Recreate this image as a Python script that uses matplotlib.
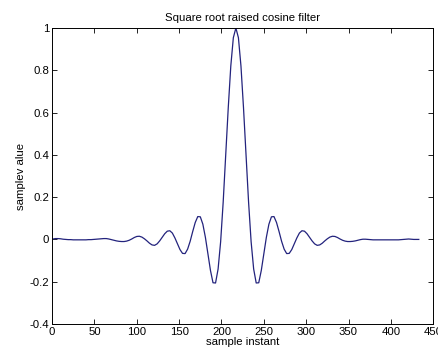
import numpy as np
import matplotlib
matplotlib.use('Agg')
import matplotlib.pyplot as plt
from matplotlib.ticker import FormatStrFormatter

# sample instants (every 3rd sample of the filter taps)
sample_instant = np.arange(1, 434, 3)

# filter taps, left half then right half
taps_left = [
    0.002, 0.004, 0.004, 0.003, 0.001, 0.0, -0.001, -0.001, -0.002, -0.002,
    -0.002, -0.002, -0.002, -0.002, -0.001, -0.001, 0.0, 0.001, 0.002, 0.003,
    0.004, 0.004, 0.002, -0.001, -0.004, -0.007, -0.009, -0.010, -0.010, -0.008,
    -0.004, 0.002, 0.009, 0.014, 0.015, 0.011, 0.003, -0.007, -0.018, -0.026,
    -0.028, -0.021, -0.007, 0.010, 0.027, 0.039, 0.041, 0.030, 0.007, -0.021,
    -0.048, -0.066, -0.067, -0.046, -0.009, 0.037, 0.080, 0.108, 0.107, 0.072,
    0.010, -0.070, -0.147, -0.205, -0.206, -0.140, -0.011, 0.176, 0.397, 0.623,
    0.820, 0.954, 1.0,
]
taps_right = [
    0.954, 0.820, 0.623, 0.397, 0.176, -0.011, -0.140, -0.206, -0.205, -0.147,
    -0.070, 0.010, 0.072, 0.107, 0.108, 0.080, 0.037, -0.009, -0.046, -0.067,
    -0.066, -0.048, -0.021, 0.007, 0.030, 0.041, 0.039, 0.027, 0.010, -0.007,
    -0.021, -0.028, -0.026, -0.018, -0.007, 0.003, 0.011, 0.015, 0.014, 0.009,
    0.002, -0.004, -0.008, -0.010, -0.010, -0.009, -0.007, -0.004, -0.001, 0.001,
    0.001, 0.0, -0.001, -0.002, -0.002, -0.002, -0.002, -0.002, -0.002, -0.002,
    -0.002, -0.002, -0.002, -0.002, -0.001, 0.0, 0.001, 0.002, 0.001, 0.0,
    0.0, 0.0,
]
sample_value = taps_left + taps_right

x_ticks = [0, 50, 100, 150, 200, 250, 300, 350, 400, 450]
y_ticks = [-0.4, -0.2, 0, 0.2, 0.4, 0.6, 0.8, 1]

plt.rcParams['font.family'] = ['Liberation Sans', 'DejaVu Sans']
plt.rcParams['font.size'] = 8.2

fig = plt.figure(figsize=(4.38, 3.61), dpi=100)
ax = fig.add_axes([0.119, 0.1025, 0.870, 0.820])

ax.plot(sample_instant, sample_value, color='#23237d', linewidth=0.9)

ax.set_xlim(0, 450)
ax.set_ylim(-0.4, 1)
ax.set_xticks(x_ticks)
ax.set_yticks(y_ticks)
ax.yaxis.set_major_formatter(FormatStrFormatter('%g'))
ax.tick_params(direction='in', length=3.5, width=0.6, top=True, right=True,
               labelsize=8.2, pad=2)
for s in ax.spines.values():
    s.set_linewidth(0.7)

ax.set_title('Square root raised cosine filter', fontsize=8.2, pad=5)
ax.set_xlabel('sample instant', fontsize=8.2, labelpad=0)
ax.set_ylabel('samplev alue', fontsize=8.2, labelpad=3)

fig.savefig('out.png', dpi=100)
plt.close(fig)
